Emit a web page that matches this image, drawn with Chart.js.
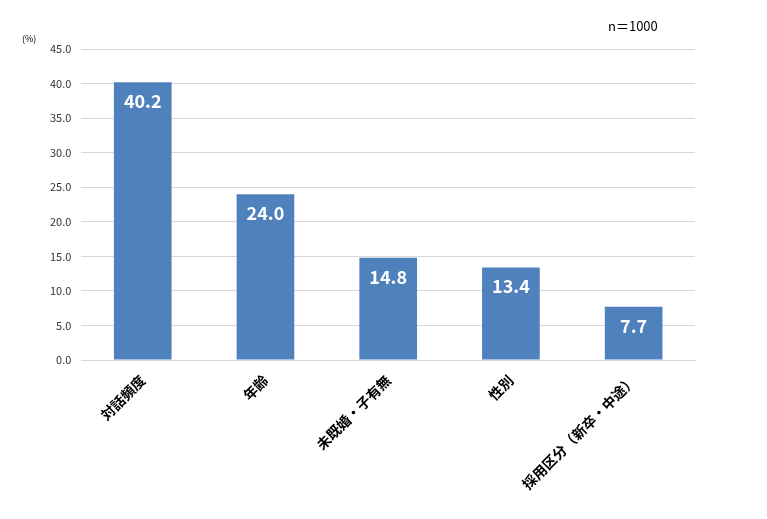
<!DOCTYPE html>
<html><head><meta charset="utf-8">
<script src="https://cdn.jsdelivr.net/npm/chart.js@4/dist/chart.umd.min.js"></script>
<style>html,body{margin:0;padding:0;background:#fff}#w{width:767px;height:519px;position:relative}</style>
</head><body><div id="w"><canvas id="c"></canvas></div>
<script>
const categories = ["対話頻度","年齢","未既婚・子有無","性別","採用区分（新卒・中途）"];
const values = [40.2, 24.0, 14.8, 13.4, 7.7];
const yTicks = [0,5,10,15,20,25,30,35,40,45];
const FONT = "'Noto Sans CJK JP','Noto Sans',sans-serif";
const extras = {
  id:'extras',
  afterDatasetsDraw(chart){
    const ctx = chart.ctx, meta = chart.getDatasetMeta(0);
    ctx.save();
    ctx.fillStyle='#fff'; ctx.font="bold 18px "+FONT; ctx.textAlign='center'; ctx.textBaseline='top';
    meta.data.forEach((b,i)=>{ ctx.fillText(values[i].toFixed(1), b.x, b.y+10); });
    ctx.fillStyle='#000'; ctx.font="9px "+FONT; ctx.textAlign='left';
    ctx.fillText('(%)', 22, 34);
    ctx.font="13px "+FONT;
    ctx.fillText('n＝1000', 608, 20);
    ctx.restore();
  }
};
new Chart(document.getElementById('c'), {
  type:'bar',
  data:{labels:categories, datasets:[{data:values, backgroundColor:'#4f81bd', barPercentage:0.94, categoryPercentage:0.5}]},
  options:{
    responsive:true, maintainAspectRatio:false, animation:false,
    layout:{padding:{top:49,right:72,left:40,bottom:0}},
    plugins:{legend:{display:false}, tooltip:{enabled:false}},
    scales:{
      y:{min:0,max:45,afterBuildTicks(a){a.ticks=yTicks.map(v=>({value:v}));},
        ticks:{callback:v=>v.toFixed(1), color:'#333', font:{family:FONT,size:11}, padding:10},
        grid:{color:'#d9d9d9', drawTicks:false}, border:{display:false}},
      x:{grid:{display:false}, border:{color:'#d9d9d9'},
        afterFit(a){a.height=159;},
        ticks:{color:'#000', font:{family:FONT,size:14,weight:'bold'}, maxRotation:45, minRotation:45, padding:4}}
    }
  },
  plugins:[extras]
});
</script></body></html>
